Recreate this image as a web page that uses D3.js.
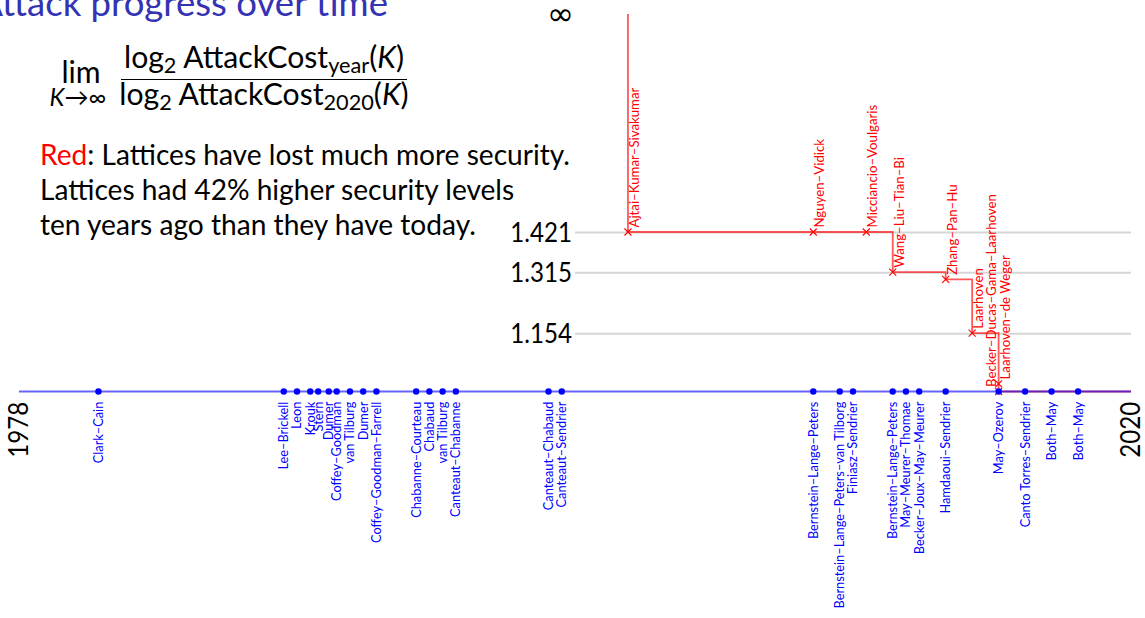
<!DOCTYPE html>
<html><head><meta charset="utf-8">
<script src="https://cdn.jsdelivr.net/npm/d3@7"></script>
<style>
html,body{margin:0;padding:0;background:#fff;overflow:hidden}
svg{display:block;font-family:Lato,"DejaVu Sans",sans-serif}
</style></head><body>
<svg id="c" width="1145" height="618"></svg>
<script>
// ---------- data ----------
const blueNames = ["Clark–Cain","Lee–Brickell","Leon","Krouk","Stern","Dumer","Coffey–Goodman","van Tilburg","Dumer","Coffey–Goodman–Farrell","Chabanne–Courteau","Chabaud","van Tilburg","Canteaut–Chabanne","Canteaut–Chabaud","Canteaut–Sendrier","Bernstein–Lange–Peters","Bernstein–Lange–Peters–van Tilborg","Finiasz–Sendrier","Bernstein–Lange–Peters","May–Meurer–Thomae","Becker–Joux–May–Meurer","Hamdaoui–Sendrier","May–Ozerov","Canto Torres–Sendrier","Both–May","Both–May"];
const blueYears = [1981,1988,1988.5,1989,1989.3,1989.7,1990,1990.5,1991,1991.5,1993,1993.5,1994,1994.5,1998,1998.5,2008,2009,2009.5,2011,2011.5,2012,2013,2015,2016,2017,2018];
const blueValues = [1,1,1,1,1,1,1,1,1,1,1,1,1,1,1,1,1,1,1,1,1,1,1,1,1,1,1];
const redNames = ["Ajtai–Kumar–Sivakumar","Nguyen–Vidick","Micciancio–Voulgaris","Wang–Liu–Tian–Bi","Zhang–Pan–Hu","Laarhoven","Laarhoven–de Weger","Becker–Ducas–Gama–Laarhoven"];
const redYears = [2001,2008,2010,2011,2013,2014,2015,2015];
const redValues = [1.421,1.421,1.421,1.315,1.296,1.154,1.02,1.0];
const yTickValues = [1.154,1.315,1.421];
const yTickLabels = ["1.154","1.315","1.421"];
const xTickValues = [1978,2020];
const xTickLabels = ["1978","2020"];
const infLabel = "∞";
const titleText = "Attack progress over time";
const noteLines = [["Red",": Lattices have lost much more security."],["","Lattices had 42% higher security levels"],["","ten years ago than they have today."]];

// ---------- setup ----------
const svg = d3.select("#c");
const x = d3.scaleLinear().domain([xTickValues[0], xTickValues[1]]).range([19,1131]);
const y = d3.scaleLinear().domain([1,1.421]).range([391.5,232]);
const yInf = 14;
const yPos = v => v === Infinity ? yInf : y(v);
const BLUE = "#0000ff", RED = "#ff0000", TITLE = "#3333b3";

function fit(sel, w){
  const base = parseFloat(sel.attr("font-size")) || 20;
  const cur = sel.node().getComputedTextLength();
  const s = base * w / cur;
  sel.attr("font-size", s);
  return s;
}

// ---------- title ----------
const tmp = svg.append("text").attr("font-size",30).text(titleText.slice(1));
const tfs = fit(tmp, 386); tmp.remove();
svg.append("text").attr("x",388).attr("y",16).attr("text-anchor","end")
  .attr("font-size",tfs).attr("fill",TITLE).text(titleText);

// ---------- formula ----------
function fracLine(yb, sub){
  const t = svg.append("text").attr("x",264).attr("y",yb).attr("text-anchor","middle").attr("font-size",22).attr("fill","#000");
  t.append("tspan").text("log");
  t.append("tspan").attr("dy",5).attr("font-size","0.72em").text("2");
  t.append("tspan").attr("dy",-5).text(" AttackCost");
  t.append("tspan").attr("dy",5).attr("font-size","0.72em").text(sub);
  t.append("tspan").attr("dy",-5).text("(");
  t.append("tspan").attr("font-style","italic").text("K");
  t.append("tspan").text(")");
  return t;
}
const num = fracLine(68,"year");
const ffs = fit(num, 280);
const den = fracLine(105,"2020").attr("font-size",ffs);
svg.append("line").attr("x1",121).attr("x2",407).attr("y1",79.5).attr("y2",79.5).attr("stroke","#000").attr("stroke-width",1.2);
svg.append("text").attr("x",81).attr("y",83).attr("text-anchor","middle").attr("font-size",ffs).text("lim");
const lt = svg.append("text").attr("x",78).attr("y",106).attr("text-anchor","middle").attr("font-size",ffs*0.8);
lt.append("tspan").attr("font-style","italic").text("K");
lt.append("tspan").text("→∞");

// ---------- note ----------
let nfs = 24;
noteLines.forEach((ln,i)=>{
  const t = svg.append("text").attr("x",40).attr("y",165+35*i).attr("font-size",nfs).attr("fill","#000");
  if(ln[0]) t.append("tspan").attr("fill",RED).text(ln[0]);
  t.append("tspan").text(ln[1]);
  if(i===0){ nfs = fit(t, 530); }
});

// ---------- y axis / gridlines ----------
const yAxisG = svg.append("g").attr("transform","translate(575,0)")
  .call(d3.axisLeft(y).tickValues(yTickValues).tickFormat((d,i)=>yTickLabels[i]).tickSize(-(1131-575)).tickPadding(3));
yAxisG.select(".domain").remove();
yAxisG.selectAll(".tick line").attr("stroke","#d6d6d6").attr("stroke-width",2);
yAxisG.selectAll(".tick text").attr("fill","#000").attr("font-family","Lato,'DejaVu Sans',sans-serif")
  .attr("font-size",27).attr("dy","0.36em").attr("textLength",61.7).attr("lengthAdjust","spacingAndGlyphs");
const inf = svg.append("text").attr("x",574).attr("y",yInf+1).attr("dy","0.32em").attr("text-anchor","end")
  .attr("font-family","'DejaVu Sans',sans-serif").attr("font-size",26).attr("fill","#000").text(infLabel);
fit(inf, 27);

// ---------- red series ----------
const redPts = redYears.map((yr,i)=>({yr, v:redValues[i], name:redNames[i]}));
const redLinePts = [{yr:redYears[0], v:Infinity}].concat(redPts, [{yr:xTickValues[1], v:redValues[redValues.length-1]}]);
const line = d3.line().x(d=>x(d.yr)).y(d=>yPos(d.v)).curve(d3.curveStepAfter);
svg.append("path").datum(redLinePts).attr("d",line).attr("fill","none").attr("stroke",RED).attr("stroke-opacity",0.65).attr("stroke-width",1.8);
svg.append("g").selectAll("path").data(redPts).join("path")
  .attr("transform",d=>`translate(${x(d.yr)},${yPos(d.v)})`)
  .attr("d","M-3.5,-3.5L3.5,3.5M-3.5,3.5L3.5,-3.5").attr("stroke",RED).attr("stroke-width",1.1).attr("fill","none");
const redLab = svg.append("g").selectAll("text").data(redPts).join("text")
  .attr("transform",d=>{
    const dx = d.name==="Becker–Ducas–Gama–Laarhoven" ? -7.5 : 6.5;
    return `translate(${x(d.yr)+dx},${yPos(d.v)-4.5}) rotate(-90)`;})
  .attr("text-anchor","start").attr("dy","0.35em").attr("font-size",12).attr("fill",RED).text(d=>d.name);
const rfs = fit(d3.select(redLab.nodes()[0]), 140);
redLab.attr("font-size",rfs);

// ---------- blue series ----------
const bluePts = blueYears.map((yr,i)=>({yr, v:blueValues[i], name:blueNames[i]}));
const blueLinePts = [{yr:xTickValues[0], v:blueValues[0]}].concat(bluePts,[{yr:xTickValues[1], v:blueValues[blueValues.length-1]}]);
svg.append("path").datum(blueLinePts).attr("d",line).attr("fill","none").attr("stroke",BLUE).attr("stroke-opacity",0.6).attr("stroke-width",2);
svg.append("g").selectAll("circle").data(bluePts).join("circle")
  .attr("cx",d=>x(d.yr)).attr("cy",d=>y(d.v)).attr("r",3.2).attr("fill",BLUE);
const blueLab = svg.append("g").selectAll("text").data(bluePts).join("text")
  .attr("transform",d=>`translate(${x(d.yr)},${y(d.v)+10.2}) rotate(-90)`)
  .attr("text-anchor","end").attr("dy","0.35em").attr("font-size",12).attr("fill",BLUE).text(d=>d.name);
fit(d3.select(blueLab.nodes()[17]), 207);
blueLab.attr("font-size", d3.select(blueLab.nodes()[17]).attr("font-size"));

// ---------- x tick labels ----------
svg.append("g").selectAll("text").data(xTickValues).join("text")
  .attr("transform",d=>`translate(${x(d)},${y(1)+10.2}) rotate(-90)`)
  .attr("text-anchor","end").attr("dy","0.36em").attr("font-size",26).attr("fill","#000")
  .attr("textLength",56).attr("lengthAdjust","spacingAndGlyphs").text((d,i)=>xTickLabels[i]);
</script>
</body></html>
